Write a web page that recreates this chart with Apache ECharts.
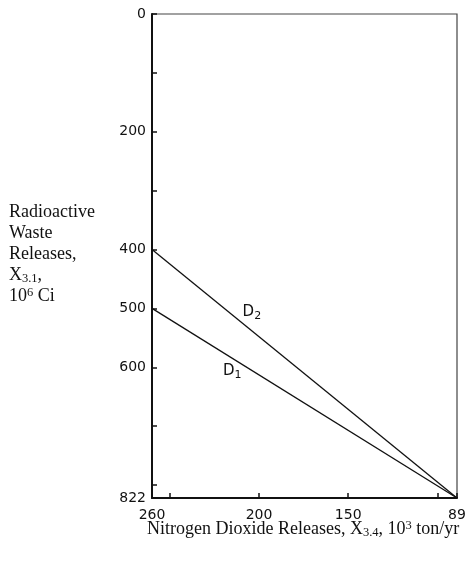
<!DOCTYPE html>
<html><head><meta charset="utf-8">
<script src="https://cdn.jsdelivr.net/npm/echarts@6/dist/echarts.min.js"></script>
<style>html,body{margin:0;padding:0;background:#fff}#c{width:471px;height:564px}</style>
</head><body><div id="c"></div><script>
// Trade-off lines between nitrogen dioxide and radioactive waste releases
const nitrogenRange = [89, 260];          // 10^3 ton/yr
const radioactiveRange = [0, 822];        // 10^6 Ci
const xLabelValues = [260, 200, 150, 89];
const xTickValues = [260, 250, 200, 150, 100, 89];
const yLabelValues = [0, 200, 400, 500, 600, 822];
const yTickValues = [0, 100, 200, 300, 400, 500, 600, 700, 800, 822];
const d1Points = [[260, 500], [89, 822]];
const d2Points = [[260, 400], [89, 822]];
const d1LabelAt = [215, 606];
const d2LabelAt = [204, 506];

const tickFont = { fontFamily: 'DejaVu Sans', fontSize: 14, color: '#111' };
const serif = 'Liberation Serif';

function lineSeries(name, pts, labelAt, sub) {
  return {
    type: 'line', name, data: pts, symbol: 'none',
    lineStyle: { color: '#111', width: 1.3 },
    markPoint: {
      symbol: 'circle', symbolSize: 0, silent: true,
      data: [{ coord: labelAt }],
      label: {
        show: true, position: 'inside',
        formatter: '{d|D}{s|' + sub + '}',
        rich: {
          d: { fontFamily: 'DejaVu Sans', fontSize: 15, color: '#111' },
          s: { fontFamily: 'DejaVu Sans', fontSize: 11, color: '#111', padding: [8, 0, 0, 0] }
        }
      }
    }
  };
}

const titleRich = {
  t: { fontFamily: serif, fontSize: 18, lineHeight: 21, fill: '#111' },
  b: { fontFamily: serif, fontSize: 12.5, lineHeight: 21, fill: '#111', padding: [7, 0, 0, 0] },
  p: { fontFamily: serif, fontSize: 12.5, lineHeight: 21, fill: '#111', padding: [0, 0, 7, 0] }
};

const chart = echarts.init(document.getElementById('c'), null, { renderer: 'canvas' });
chart.setOption({
  animation: false,
  backgroundColor: '#fff',
  grid: { left: 152, top: 14, right: 14, bottom: 66, show: true, borderColor: '#444', borderWidth: 1.2 },
  xAxis: {
    type: 'value', inverse: true, min: nitrogenRange[0], max: nitrogenRange[1],
    position: 'bottom',
    splitLine: { show: false },
    axisLine: { onZero: false, lineStyle: { color: '#111', width: 2 } },
    axisTick: { inside: true, length: 5, customValues: xTickValues, lineStyle: { color: '#111', width: 1.5 } },
    axisLabel: Object.assign({ margin: 10, customValues: xLabelValues, showMinLabel: true, showMaxLabel: true }, tickFont)
  },
  yAxis: {
    type: 'value', inverse: true, min: radioactiveRange[0], max: radioactiveRange[1],
    position: 'left',
    splitLine: { show: false },
    axisLine: { onZero: false, lineStyle: { color: '#111', width: 2 } },
    axisTick: { inside: true, length: 5, customValues: yTickValues, lineStyle: { color: '#111', width: 1.5 } },
    axisLabel: Object.assign({ margin: 6, customValues: yLabelValues, showMinLabel: true, showMaxLabel: true }, tickFont)
  },
  series: [
    lineSeries('D1', d1Points, d1LabelAt, '1'),
    lineSeries('D2', d2Points, d2LabelAt, '2')
  ],
  graphic: [
    {
      type: 'text', left: 9, top: 203,
      style: {
        text: '{t|Radioactive}\n{t|Waste}\n{t|Releases,}\n{t|X}{b|3.1}{t|,}\n{t|10}{p|6}{t| Ci}',
        rich: titleRich
      }
    },
    {
      type: 'text', left: 147, top: 519,
      style: {
        text: '{t|Nitrogen Dioxide Releases, X}{b|3.4}{t|, 10}{p|3}{t| ton/yr}',
        rich: titleRich
      }
    }
  ]
});
</script></body></html>
